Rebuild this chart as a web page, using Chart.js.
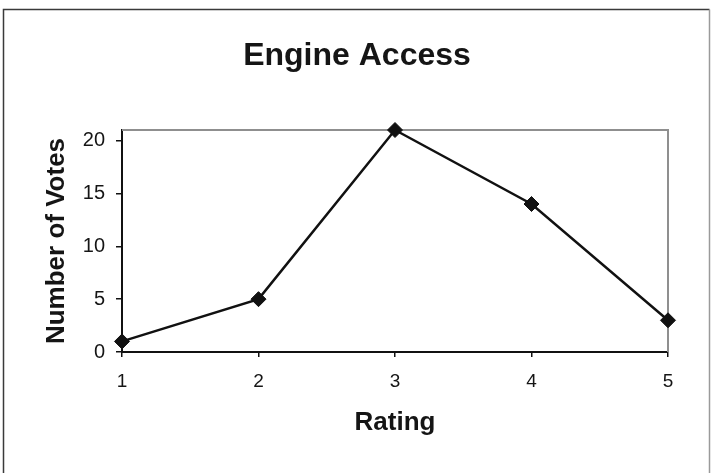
<!DOCTYPE html>
<html>
<head>
<meta charset="utf-8">
<script src="https://cdn.jsdelivr.net/npm/chart.js@4"></script>
<style>
  html, body { margin: 0; padding: 0; background: #fff; }
  canvas { display: block; }
</style>
</head>
<body>
<canvas id="c" width="716" height="473"></canvas>
<script>
// Votes per rating
const ratings = ['1', '2', '3', '4', '5'];
const votes = [1, 5, 21, 14, 3];
const voteTicks = [0, 5, 10, 15, 20];
const voteMax = 21;
const chartTitle = 'Engine Access';

const FONT = '"Liberation Sans", Arial, Helvetica, sans-serif';

// White background plus the outer frame around the whole figure
const outerFrame = {
  id: 'outerFrame',
  beforeDraw(chart) {
    const ctx = chart.ctx;
    ctx.save();
    ctx.fillStyle = '#ffffff';
    ctx.fillRect(0, 0, chart.width, chart.height);
    ctx.lineWidth = 1.5;
    ctx.strokeStyle = '#3a3a3a';
    ctx.beginPath();
    ctx.moveTo(3.5, chart.height);
    ctx.lineTo(3.5, 9.5);
    ctx.lineTo(709.5, 9.5);
    ctx.stroke();
    ctx.strokeStyle = '#9a9a9a';
    ctx.beginPath();
    ctx.moveTo(709.5, 9.5);
    ctx.lineTo(709.5, chart.height);
    ctx.stroke();
    ctx.restore();
  }
};

// Title centred across the whole figure
const figureTitle = {
  id: 'figureTitle',
  afterDraw(chart) {
    const ctx = chart.ctx;
    ctx.save();
    ctx.fillStyle = '#151515';
    ctx.font = 'bold 32px ' + FONT;
    ctx.textAlign = 'center';
    ctx.textBaseline = 'alphabetic';
    ctx.fillText(chartTitle, 357, 65);
    ctx.restore();
  }
};

// Grey top and right edges of the plot area
const plotEdges = {
  id: 'plotEdges',
  beforeDatasetsDraw(chart) {
    const {ctx, chartArea: a} = chart;
    ctx.save();
    ctx.strokeStyle = '#8f8f8f';
    ctx.lineWidth = 2;
    ctx.beginPath();
    ctx.moveTo(a.left, a.top);
    ctx.lineTo(a.right, a.top);
    ctx.lineTo(a.right, a.bottom);
    ctx.stroke();
    ctx.restore();
  }
};

new Chart(document.getElementById('c'), {
  type: 'line',
  data: {
    labels: ratings,
    datasets: [{
      data: votes,
      borderColor: '#111111',
      borderWidth: 2.5,
      tension: 0,
      fill: false,
      pointStyle: 'rectRot',
      pointRadius: 7.5,
      pointHoverRadius: 7.5,
      pointBackgroundColor: '#111111',
      pointBorderColor: '#111111',
      pointBorderWidth: 1,
      clip: false
    }]
  },
  options: {
    responsive: false,
    animation: false,
    devicePixelRatio: 1,
    layout: { padding: { left: 30, right: 48, top: 130, bottom: 20 } },
    plugins: {
      legend: { display: false },
      tooltip: { enabled: false },
      title: { display: false }
    },
    scales: {
      x: {
        type: 'category',
        offset: false,
        afterFit(scale) { scale.height = 101; },
        grid: {
          display: true,
          drawOnChartArea: false,
          drawTicks: true,
          tickLength: 5,
          color: '#111111',
          lineWidth: 1.5
        },
        border: { display: true, color: '#111111', width: 2 },
        ticks: {
          color: '#151515',
          font: { family: FONT, size: 19 },
          padding: 13,
          maxRotation: 0
        },
        title: {
          display: true,
          text: 'Rating',
          color: '#151515',
          font: { family: FONT, size: 26, weight: 'bold', lineHeight: 1.2 },
          padding: { top: 15, bottom: 15 }
        }
      },
      y: {
        type: 'linear',
        min: 0,
        max: voteMax,
        afterFit(scale) { scale.width = 92; },
        afterBuildTicks(scale) { scale.ticks = voteTicks.map(v => ({ value: v })); },
        grid: {
          display: true,
          drawOnChartArea: false,
          drawTicks: true,
          tickLength: 6,
          color: '#111111',
          lineWidth: 1.5
        },
        border: { display: true, color: '#111111', width: 2 },
        ticks: {
          color: '#151515',
          font: { family: FONT, size: 20 },
          padding: 11
        },
        title: {
          display: true,
          text: 'Number of Votes',
          color: '#151515',
          font: { family: FONT, size: 26, weight: 'bold', lineHeight: 1.2 },
          padding: { top: 11, bottom: 11 }
        }
      }
    }
  },
  plugins: [outerFrame, plotEdges, figureTitle]
});
</script>
</body>
</html>
